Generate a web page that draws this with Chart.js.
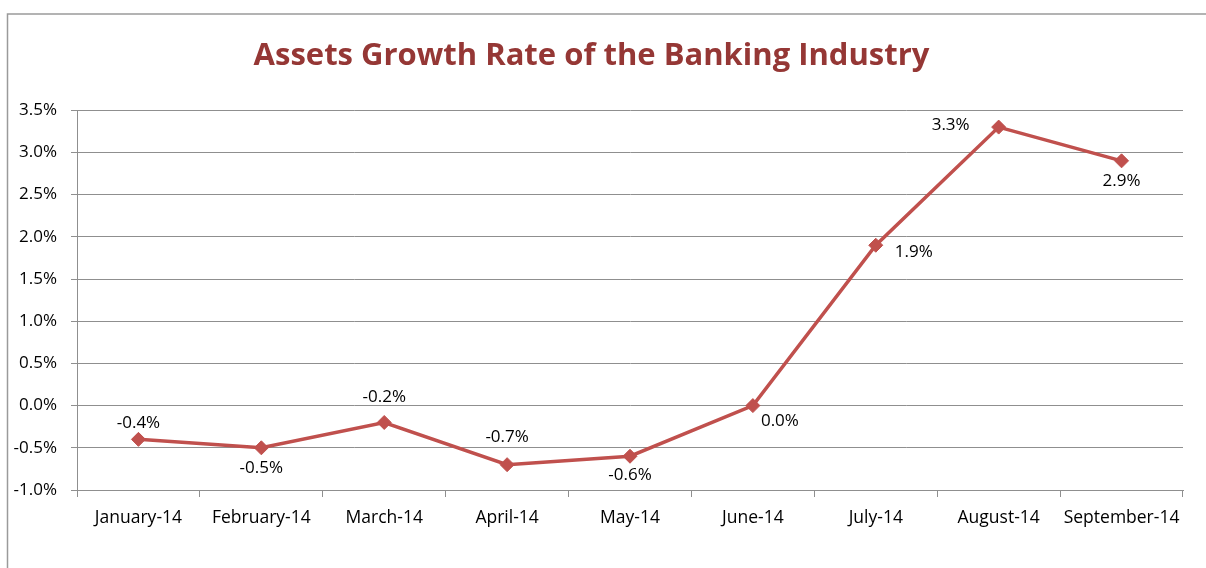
<!DOCTYPE html>
<html>
<head>
<meta charset="utf-8">
<script src="https://cdn.jsdelivr.net/npm/chart.js@4"></script>
<style>
  html, body { margin: 0; padding: 0; background: #fff; overflow: hidden; }
  #wrap { position: relative; width: 1206px; height: 568px; }
</style>
</head>
<body>
<div id="wrap"><canvas id="growth-chart" width="1206" height="568"></canvas></div>
<script>
// chart data
const months = ["January-14", "February-14", "March-14", "April-14", "May-14", "June-14", "July-14", "August-14", "September-14"];
const growthRate = [-0.4, -0.5, -0.2, -0.7, -0.6, 0.0, 1.9, 3.3, 2.9];
const yTicks = [-1.0, -0.5, 0.0, 0.5, 1.0, 1.5, 2.0, 2.5, 3.0, 3.5];

const lineRed = "#C0504D";
const gridGrey = "#8f8f8f";
const labelFont = "'Open Sans', Lato, sans-serif";

// where each value label sits relative to its point (dx, dy)
const labelOffsets = [[0, -16], [0, 20], [0, -25], [0, -28], [0, 19], [27, 16], [38, 7], [-48, -2], [0, 20]];

//outer frame like the spreadsheet chart box
const framePlugin = {
    id: "frame",
    beforeDraw(chart){
        const ctx = chart.ctx;
        ctx.save();
        ctx.fillStyle = "#fff";
        ctx.fillRect(0, 0, chart.width, chart.height);
        ctx.strokeStyle = "#9a9a9a";
        ctx.lineWidth = 1.5;
        ctx.strokeRect(7.5, 14, 1240, 600);
        ctx.restore();
    }
};

//value labels next to the points
const valueLabels = {
    id: "valueLabels",
    afterDatasetsDraw(chart){
        const ctx = chart.ctx;
        const meta = chart.getDatasetMeta(0);
        ctx.save();
        ctx.font = "17px " + labelFont;
        ctx.fillStyle = "#000";
        ctx.textAlign = "center";
        ctx.textBaseline = "middle";
        meta.data.forEach((pt, i) =>{
            const off = labelOffsets[i];
            ctx.fillText(growthRate[i].toFixed(1) + "%", pt.x + off[0], pt.y + off[1]);
        });
        ctx.restore();
    }
};

new Chart("growth-chart", {
    type: "line",
    data: {
        labels: months,
        datasets: [{
            data: growthRate,
            borderColor: lineRed,
            backgroundColor: lineRed,
            borderWidth: 3.5,
            pointStyle: "rectRot",
            pointRadius: 7,
            pointBorderWidth: 1,
            tension: 0
        }]
    },
    options: {
        responsive: false,
        animation: false,
        layout: { padding: { left: 0, right: 23, top: 0, bottom: 0 } },
        plugins: {
            legend: { display: false },
            tooltip: { enabled: false },
            title: {
                display: true,
                text: "Assets Growth Rate of the Banking Industry",
                color: "#953735",
                font: { family: labelFont, size: 31, weight: "bold", lineHeight: 1.2 },
                padding: { top: 38, bottom: 35 }
            }
        },
        scales: {
            x: {
                offset: true,
                grid: {
                    offset: true,
                    drawOnChartArea: false,
                    drawTicks: true,
                    tickLength: 7,
                    color: gridGrey
                },
                border: { color: gridGrey, width: 1 },
                ticks: {
                    color: "#000",
                    font: { family: labelFont, size: 17.5 },
                    padding: 11,
                    maxRotation: 0,
                    autoSkip: false
                },
                afterFit(scale){ scale.height = 78; }
            },
            y: {
                min: -1.0,
                max: 3.5,
                afterBuildTicks(scale){
                    scale.ticks = yTicks.map(v => ({ value: v }));
                },
                grid: { color: gridGrey, tickLength: 6 },
                border: { color: gridGrey, width: 1 },
                ticks: {
                    color: "#000",
                    font: { family: labelFont, size: 17 },
                    padding: 14,
                    callback: v => v.toFixed(1) + "%"
                },
                afterFit(scale){ scale.width = 77; }
            }
        }
    },
    plugins: [framePlugin, valueLabels]
});
</script>
</body>
</html>
